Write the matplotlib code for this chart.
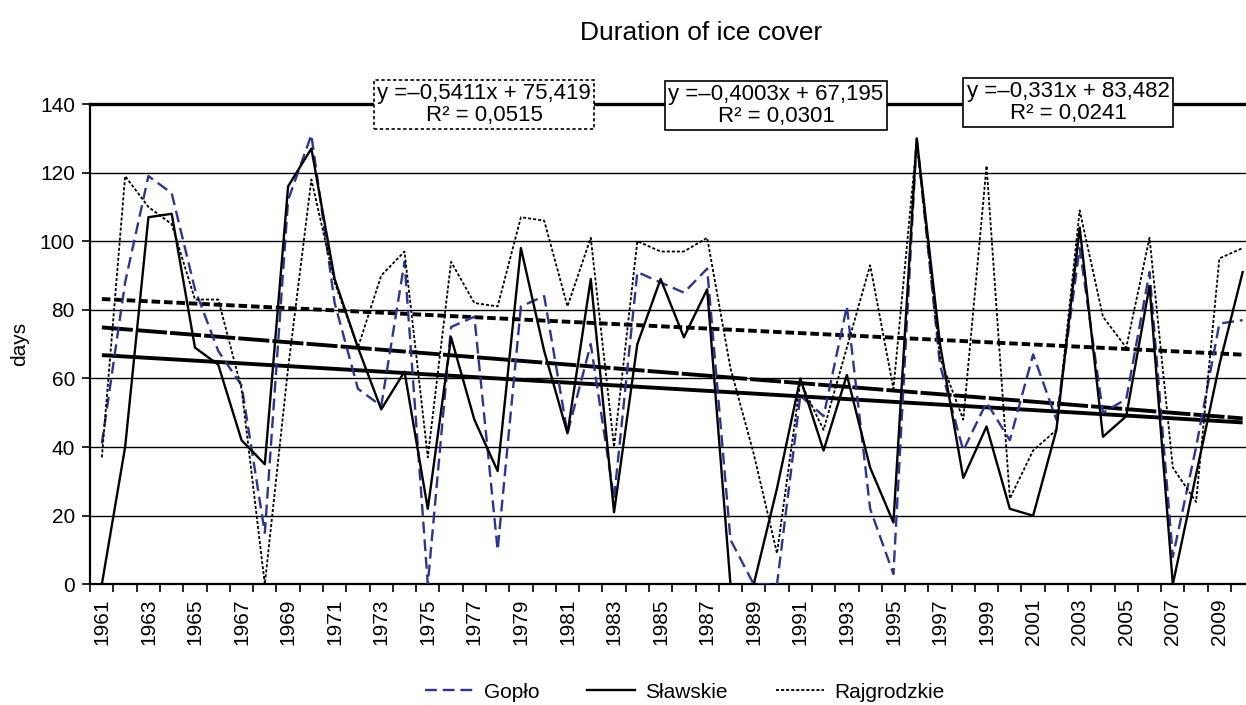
import matplotlib
matplotlib.use('Agg')
import matplotlib.pyplot as plt
from matplotlib.lines import Line2D
import numpy as np

plt.rcParams['font.family'] = ['Liberation Sans', 'DejaVu Sans']

years = list(range(1961, 2011))
goplo = [41, 88, 119, 114, 86, 68, 58, 15, 112, 131,
         82, 57, 52, 94, 0, 75, 78, 10, 81, 84,
         44, 70, 25, 91, 88, 85, 92, 13, 0, 0,
         55, 49, 81, 22, 3, 130, 64, 39, 53, 42,
         67, 48, 98, 50, 54, 91, 8, 40, 76, 77]
slawskie = [0, 40, 107, 108, 69, 64, 42, 35, 116, 127,
            89, 69, 51, 62, 22, 72, 48, 33, 98, 68,
            44, 89, 21, 70, 89, 72, 86, 0, 0, 28,
            60, 39, 61, 34, 18, 130, 70, 31, 46, 22,
            20, 45, 104, 43, 49, 87, 0, 32, 64, 91]
rajgrodzkie = [37, 119, 110, 105, 83, 83, 57, 0, 63, 118,
               88, 69, 90, 97, 37, 94, 82, 81, 107, 106,
               81, 101, 40, 100, 97, 97, 101, 63, 38, 9,
               59, 45, 69, 93, 57, 129, 66, 48, 122, 25,
               39, 45, 109, 78, 69, 101, 34, 24, 95, 98]

series_names = ['Gopło', 'Sławskie', 'Rajgrodzkie']
trend_slope = [-0.5411, -0.4003, -0.331]
trend_icept = [75.419, 67.195, 83.482]
trend_r2 = ['0,0515', '0,0301', '0,0241']
eq_texts = ['y =–0,5411x + 75,419', 'y =–0,4003x + 67,195', 'y =–0,331x + 83,482']

W, H = 1246, 705
fig = plt.figure(figsize=(W / 100, H / 100), dpi=100)
ax = fig.add_axes([90.2 / W, 1 - 584.3 / H, (1254.3 - 90.2) / W, (584.3 - 104) / H])

blue = '#2B3595'
yrs = np.array(years)
idx = np.arange(1, len(years) + 1)

# trend lines
ax.plot(yrs, trend_slope[0] * idx + trend_icept[0], color='black', lw=2.8,
        dashes=(8, 0.8), solid_capstyle='butt', zorder=3)
ax.plot(yrs, trend_slope[1] * idx + trend_icept[1], color='black', lw=2.8,
        solid_capstyle='butt', zorder=3)
ax.plot(yrs, trend_slope[2] * idx + trend_icept[2], color='black', lw=2.8,
        dashes=(2.2, 1.0), zorder=3)

# series
ax.plot(yrs, goplo, color=blue, lw=1.7, dashes=(5, 2.5), zorder=4)
ax.plot(yrs, slawskie, color='black', lw=1.7, zorder=4)
ax.plot(yrs, rajgrodzkie, color='black', lw=1.3, dashes=(1.7, 1.1), zorder=4)

ax.set_xlim(1960.5, 2010.5)
ax.set_ylim(0, 140)
ax.set_yticks(range(0, 141, 20))
ax.yaxis.grid(True, color='black', lw=1.0)
ax.set_axisbelow(True)
ax.tick_params(axis='y', direction='out', length=6, width=1.2, labelsize=15, pad=5)

ax.set_xticks(np.arange(1960.5, 2011, 1))
ax.set_xticklabels([])
ax.tick_params(axis='x', which='major', direction='out', length=6, width=1.2)
ax.set_xticks(years[::2], minor=True)
ax.set_xticklabels([str(y) for y in years[::2]], minor=True, rotation=90, fontsize=15)
ax.tick_params(axis='x', which='minor', length=0, pad=10)

for s in ['left', 'bottom']:
    ax.spines[s].set_linewidth(1.6)
ax.spines['top'].set_linewidth(2.4)
ax.spines['right'].set_visible(False)

ax.set_ylabel('days', fontsize=15)
ax.yaxis.set_label_coords(-0.0525, 0.5)

fig.text(701 / W, 1 - 33 / H, 'Duration of ice cover', ha='center', va='center', fontsize=19)

box_cx = [484, 776, 1068]
box_cy = [104.5, 105.5, 102.5]
box_ls = [(0, (2, 1.5)), 'solid', 'solid']
for cx, cy, eq, r2, ls in zip(box_cx, box_cy, eq_texts, trend_r2, box_ls):
    fig.text(cx / W, 1 - cy / H, eq + '\nR² = ' + r2, ha='center', va='center',
             fontsize=16, linespacing=1.05, zorder=10,
             bbox=dict(boxstyle='square,pad=0.15', fc='white', ec='black', lw=1.2, ls=ls))

handles = [Line2D([], [], color=blue, lw=1.7, dashes=(5, 2.5)),
           Line2D([], [], color='black', lw=1.7),
           Line2D([], [], color='black', lw=1.3, dashes=(1.7, 1.1))]
fig.legend(handles, series_names, loc='center', bbox_to_anchor=(685 / W, 1 - 692 / H),
           ncol=3, frameon=False, fontsize=15, handlelength=2.3, columnspacing=2.3,
           handletextpad=0.5)

fig.savefig('out.png', dpi=100)
